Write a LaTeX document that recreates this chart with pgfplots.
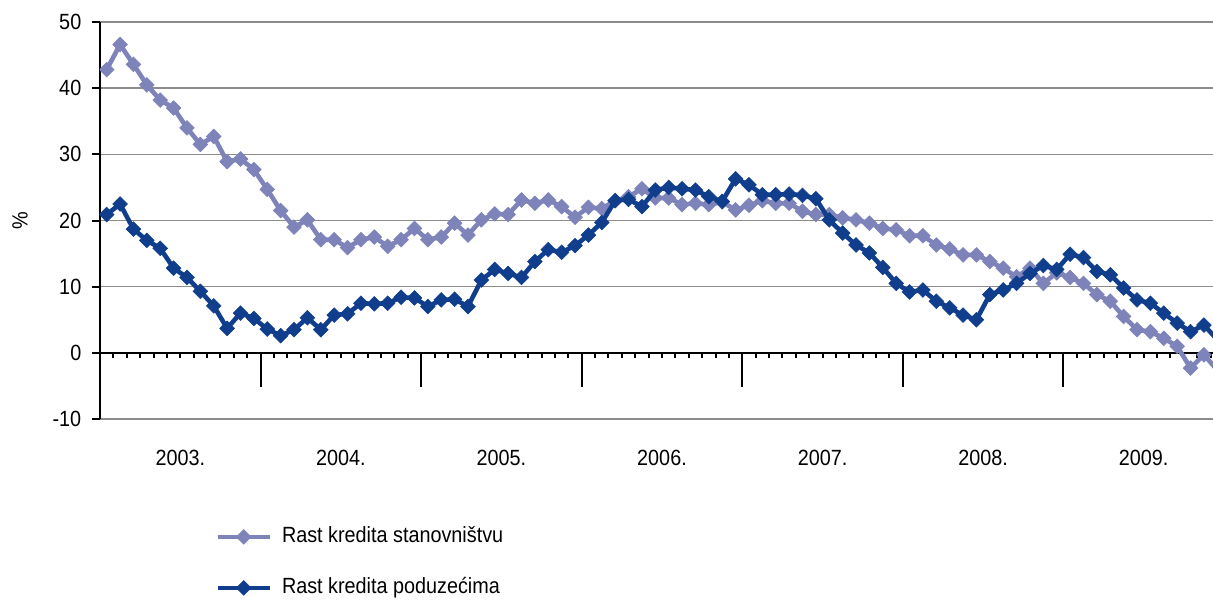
\documentclass[border=0pt]{standalone}
\usepackage{pgfplots}
\usepackage{pgfplotstable}
\pgfplotsset{compat=1.18}
\usepackage{fontspec}
\setmainfont{Liberation Sans}[FakeStretch=0.9]
\definecolor{lightser}{RGB}{126,131,186}
\definecolor{darkser}{RGB}{17,62,140}
\definecolor{gridc}{RGB}{140,140,140}

\pgfplotstableread{
x y
0.5 42.8
1.5 46.6
2.5 43.6
3.5 40.5
4.5 38.2
5.5 37.0
6.5 34.0
7.5 31.5
8.5 32.7
9.5 28.9
10.5 29.3
11.5 27.7
12.5 24.7
13.5 21.5
14.5 19.0
15.5 20.1
16.5 17.1
17.5 17.1
18.5 15.9
19.5 17.1
20.5 17.5
21.5 16.1
22.5 17.1
23.5 18.8
24.5 17.1
25.5 17.5
26.5 19.6
27.5 17.8
28.5 20.1
29.5 21.0
30.5 20.9
31.5 23.1
32.5 22.6
33.5 23.1
34.5 22.1
35.5 20.5
36.5 22.0
37.5 21.8
38.5 23.0
39.5 23.6
40.5 24.8
41.5 23.4
42.5 23.4
43.5 22.4
44.5 22.6
45.5 22.4
46.5 22.8
47.5 21.6
48.5 22.3
49.5 23.0
50.5 22.6
51.5 22.6
52.5 21.4
53.5 20.9
54.5 20.9
55.5 20.4
56.5 20.1
57.5 19.6
58.5 18.8
59.5 18.6
60.5 17.7
61.5 17.7
62.5 16.3
63.5 15.7
64.5 14.8
65.5 14.8
66.5 13.8
67.5 12.8
68.5 11.5
69.5 12.8
70.5 10.5
71.5 12.1
72.5 11.4
73.5 10.5
74.5 8.8
75.5 7.8
76.5 5.5
77.5 3.5
78.5 3.2
79.5 2.2
80.5 1.0
81.5 -2.3
82.5 -0.3
83.5 -2.6
}\stanovnistvo

\pgfplotstableread{
x y
0.5 20.9
1.5 22.5
2.5 18.7
3.5 17.0
4.5 15.8
5.5 12.8
6.5 11.4
7.5 9.3
8.5 7.1
9.5 3.7
10.5 6.0
11.5 5.2
12.5 3.6
13.5 2.6
14.5 3.5
15.5 5.3
16.5 3.5
17.5 5.7
18.5 5.9
19.5 7.5
20.5 7.4
21.5 7.5
22.5 8.4
23.5 8.3
24.5 7.0
25.5 8.0
26.5 8.1
27.5 7.0
28.5 11.0
29.5 12.6
30.5 12.0
31.5 11.4
32.5 13.8
33.5 15.6
34.5 15.2
35.5 16.2
36.5 17.8
37.5 19.7
38.5 23.0
39.5 23.2
40.5 22.1
41.5 24.6
42.5 25.0
43.5 24.8
44.5 24.6
45.5 23.6
46.5 22.9
47.5 26.3
48.5 25.4
49.5 23.9
50.5 23.9
51.5 24.0
52.5 23.8
53.5 23.3
54.5 20.1
55.5 18.1
56.5 16.3
57.5 15.1
58.5 12.9
59.5 10.5
60.5 9.2
61.5 9.5
62.5 7.8
63.5 6.8
64.5 5.7
65.5 5.0
66.5 8.8
67.5 9.5
68.5 10.5
69.5 12.0
70.5 13.2
71.5 12.6
72.5 14.9
73.5 14.4
74.5 12.3
75.5 11.8
76.5 9.8
77.5 8.0
78.5 7.5
79.5 6.0
80.5 4.5
81.5 3.2
82.5 4.2
83.5 2.0
}\poduzecima

\begin{document}
\fontsize{11}{13}\selectfont
\begin{tikzpicture}
\begin{axis}[
  at={(0,0)}, anchor=south west,
  scale only axis, width=556.5pt, height=198.5pt,
  xmin=0, xmax=83.18, ymin=-10, ymax=50,
  axis x line=middle, axis y line=left,
  axis line style={-, black, line width=1pt},
  ytick={-10,0,...,50},
  ymajorgrids, major grid style={gridc, line width=0.8pt},
  xtick={0,12,...,84}, xticklabels={},
  minor xtick={1,...,83},
  tick align=outside,
  tick style={black, line width=1pt},
  major tick length=4pt,
  xtick style={/pgfplots/major tick length=17pt,/pgfplots/minor tick length=2.7pt},
  /pgf/number format/assume math mode=true,
  yticklabel style={font=\fontsize{11}{13}\selectfont, xshift=-1.5pt},
  ylabel={\%},
  every axis y label/.style={at={(axis description cs:0,0.5)}, xshift=-40pt, rotate=90, anchor=center},
  clip mode=individual,
  clip marker paths=true,
  legend cell align=left,
  legend style={draw=none, fill=none, at={(axis description cs:0,0)}, anchor=north west,
    xshift=57.5pt, yshift=-54pt, inner sep=0pt, row sep=16pt,
    nodes={inner sep=0pt, text height=7.5pt, text depth=2pt},
    /tikz/every odd column/.append style={column sep=5pt}},
  legend image code/.code={\draw[mark repeat=2,mark phase=2] plot coordinates {(0pt,0pt) (13pt,0pt) (26pt,0pt)};},
]
\addplot[lightser, line width=2.3pt, mark=square*, mark size=2.6pt,
  mark options={rotate=45, line width=0.3pt, fill=lightser}] table[x=x,y=y] {\stanovnistvo};
\addlegendentry{Rast kredita stanovništvu}
\addplot[darkser, line width=2.3pt, mark=square*, mark size=2.6pt,
  mark options={rotate=45, line width=0.3pt, fill=darkser}] table[x=x,y=y] {\poduzecima};
\addlegendentry{Rast kredita poduzećima}
\node at (axis cs:6,-10) [yshift=-19.5pt] {2003.};
\node at (axis cs:18,-10) [yshift=-19.5pt] {2004.};
\node at (axis cs:30,-10) [yshift=-19.5pt] {2005.};
\node at (axis cs:42,-10) [yshift=-19.5pt] {2006.};
\node at (axis cs:54,-10) [yshift=-19.5pt] {2007.};
\node at (axis cs:66,-10) [yshift=-19.5pt] {2008.};
\node at (axis cs:78,-10) [yshift=-19.5pt] {2009.};
\end{axis}
\pgfresetboundingbox
\useasboundingbox (-50pt,-91pt) rectangle (556.5pt,209.5pt);
\end{tikzpicture}
\end{document}
